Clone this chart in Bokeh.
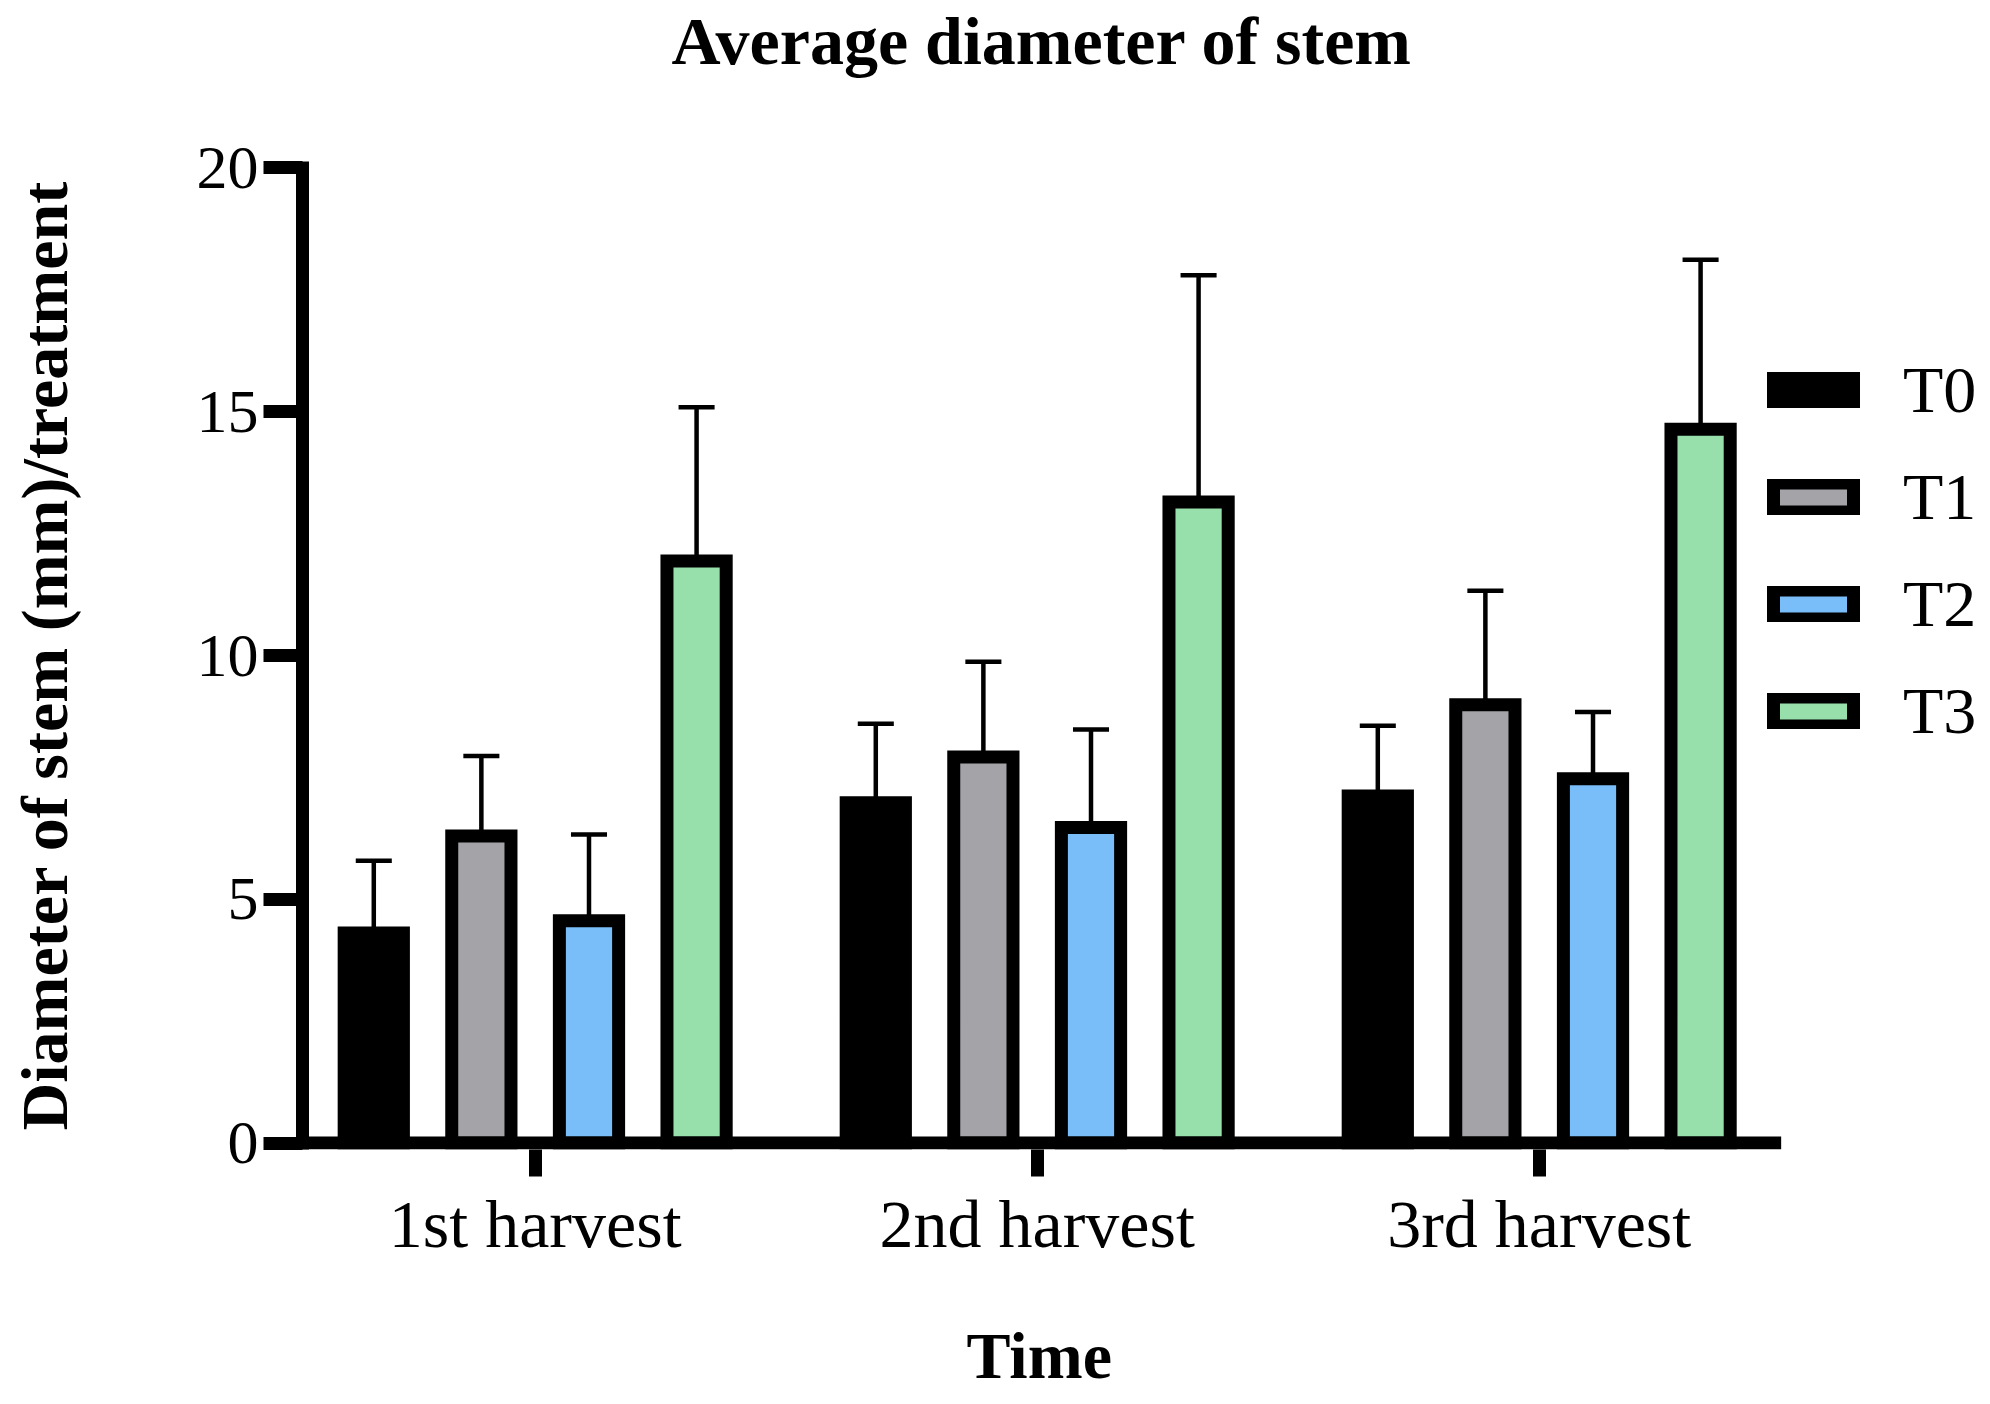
import numpy as np
from bokeh.plotting import figure
from bokeh.models import Range1d, FixedTicker, Legend, LegendItem, Title
from bokeh.embed import file_html
from bokeh.resources import INLINE

# Harvest groups on the x axis
harvests = ["1st harvest", "2nd harvest", "3rd harvest"]
treatments = ["T0", "T1", "T2", "T3"]

# Mean stem diameter (mm) per treatment and harvest
t0_mean = [4.31, 6.98, 7.12]
t1_mean = [6.30, 7.92, 8.99]
t2_mean = [4.56, 6.47, 7.47]
t3_mean = [11.94, 13.15, 14.64]

# Upper error (SD) per treatment and harvest
t0_err = [1.48, 1.62, 1.44]
t1_err = [1.64, 1.95, 2.34]
t2_err = [1.77, 2.01, 1.37]
t3_err = [3.15, 4.65, 3.48]

y_ticks = [0, 5, 10, 15, 20]

means = [t0_mean, t1_mean, t2_mean, t3_mean]
errs = [t0_err, t1_err, t2_err, t3_err]
fills = ["#000000", "#A4A3A8", "#7ABEF9", "#97DFAB"]
offsets = [-0.3215, -0.1072, 0.1072, 0.3215]

SERIF = "Liberation Serif"

# half an axis-line width, in data units, so the 0 and 20 lines sit inside the frame
pad = 0.1333
x_start, x_end = -0.4635, 2.899
x_axis_end = 2.482

p = figure(
    width=1990, height=1404, title=None,
    x_range=Range1d(x_start, x_end), y_range=Range1d(-pad, 20 + pad),
    output_backend="svg", toolbar_location=None,
    min_border_left=302, min_border_right=0,
    min_border_top=161, min_border_bottom=255,
)
p.outline_line_color = None
p.grid.visible = False
p.background_fill_color = "white"
p.border_fill_color = "white"

# Title, lifted toward the top edge by a blank spacer title
p.add_layout(Title(text=" ", text_font_size="10px", standoff=70), "above")
p.add_layout(Title(text="Average diameter of stem", align="left", offset=369,
                   text_font=SERIF, text_font_style="bold",
                   text_font_size="68px", text_color="black", standoff=0),
             "above")

group_x = np.arange(len(harvests))
bar_width = 0.118
cap_half = 0.0359

renderers = []
for mean, err, fill, off in zip(means, errs, fills, offsets):
    x = group_x + off
    mean = np.array(mean)
    top = mean + np.array(err)
    r = p.vbar(x=x, top=mean, bottom=0, width=bar_width,
               fill_color=fill, line_color="black", line_width=13,
               line_join="miter")
    renderers.append(r)
    # error bar stem and cap
    p.segment(x0=x, y0=mean, x1=x, y1=top, line_color="black", line_width=4.5)
    p.segment(x0=x - cap_half, y0=top, x1=x + cap_half, y1=top,
              line_color="black", line_width=4.5)

# x baseline at zero, stopping just past the last group
p.segment(x0=[x_start], y0=[0], x1=[x_axis_end], y1=[0],
          line_color="black", line_width=13, line_cap="butt")

# Axes
for ax in (p.xaxis[0], p.yaxis[0]):
    ax.axis_line_width = 13
    ax.axis_line_color = "black"
    ax.major_tick_line_width = 13
    ax.major_tick_line_color = "black"
    ax.major_tick_in = 0
    ax.minor_tick_line_color = None
    ax.major_label_text_font = SERIF
    ax.major_label_text_color = "black"
    ax.axis_label_text_font = SERIF
    ax.axis_label_text_color = "black"

p.xaxis.axis_line_color = None
p.xaxis.ticker = FixedTicker(ticks=list(group_x))
p.xaxis.major_label_overrides = {int(i): h for i, h in zip(group_x, harvests)}
p.xaxis.major_tick_out = 27
p.xaxis.major_label_text_font_size = "68px"
p.xaxis.major_label_standoff = 9
p.xaxis.axis_label = " "
p.xaxis.axis_label_text_font_size = "10px"
p.xaxis.axis_label_standoff = 39

p.add_layout(Title(text="Time", align="left", offset=664, vertical_align="top",
                   text_font=SERIF, text_font_style="bold",
                   text_font_size="66px", text_color="black", standoff=2),
             "below")

p.yaxis.ticker = FixedTicker(ticks=y_ticks)
p.yaxis.major_tick_out = 39
p.yaxis.major_label_text_font_size = "62px"
p.yaxis.major_label_standoff = 5
p.yaxis.axis_label = "Diameter of stem (mm)/treatment"
p.yaxis.axis_label_text_font_style = "bold"
p.yaxis.axis_label_text_font_size = "66px"
p.yaxis.axis_label_standoff = 113

legend = Legend(
    items=[LegendItem(label=t, renderers=[r]) for t, r in zip(treatments, renderers)],
    location=(1461, 400),
    orientation="vertical",
    padding=0, margin=0, spacing=31,
    glyph_width=100, glyph_height=36,
    label_standoff=40, label_height=76,
    label_text_font=SERIF, label_text_font_size="66px",
    label_text_color="black",
    border_line_color=None, background_fill_alpha=0,
)
p.add_layout(legend)

open("out.html", "w").write(file_html(p, INLINE))
